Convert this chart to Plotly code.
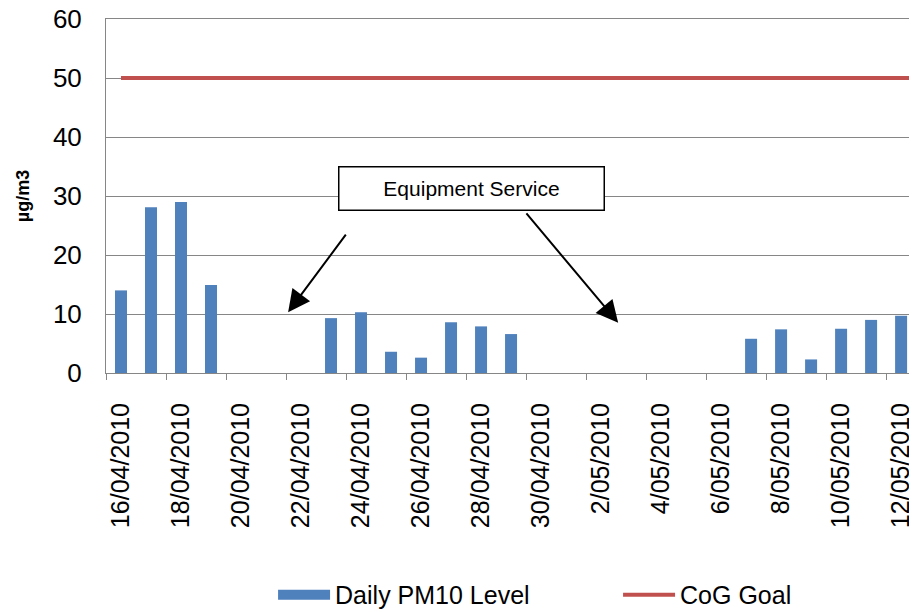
import plotly.graph_objects as go

dates = ["16/04/2010", "17/04/2010", "18/04/2010", "19/04/2010", "20/04/2010",
         "21/04/2010", "22/04/2010", "23/04/2010", "24/04/2010", "25/04/2010",
         "26/04/2010", "27/04/2010", "28/04/2010", "29/04/2010", "30/04/2010",
         "1/05/2010", "2/05/2010", "3/05/2010", "4/05/2010", "5/05/2010",
         "6/05/2010", "7/05/2010", "8/05/2010", "9/05/2010", "10/05/2010",
         "11/05/2010", "12/05/2010", "13/05/2010"]
pm10 = [14, 28.1, 29, 14.9, None, None, None, 9.3, 10.3, 3.6, 2.6, 8.6, 7.9,
        6.6, None, None, None, None, None, None, None, 5.8, 7.4, 2.3, 7.5, 9.0,
        9.7, None]
goal = [50] * len(dates)

idx = list(range(len(dates)))
label_idx = idx[0:27:2]
label_txt = [dates[i] for i in label_idx]
boundaries = [i - 0.5 for i in idx[0:28:2]]

BLUE = "#4F81BD"
RED = "#C0504D"
axis_grey = "#868686"

fig = go.Figure()
fig.add_trace(go.Bar(x=idx, y=pm10, name="Daily PM10 Level", width=0.4,
                     marker=dict(color=BLUE, line=dict(width=0)),
                     showlegend=False, legendgroup="pm"))
# legend proxy for the bar series (wide rectangle swatch)
fig.add_trace(go.Scatter(x=[None], y=[None], name="Daily PM10 Level",
                         mode="lines", line=dict(color=BLUE, width=14),
                         legendgroup="pm", legendwidth=278))
fig.add_trace(go.Scatter(x=idx, y=goal, name="CoG Goal", mode="lines",
                         line=dict(color=RED, width=4)))
# boundary tick marks on an overlaid axis
fig.add_trace(go.Scatter(x=[None], y=[None], xaxis="x2", showlegend=False,
                         hoverinfo="skip"))

fig.update_layout(
    template="none",
    width=917, height=612,
    margin=dict(l=98, r=8, t=11, b=247, autoexpand=False),
    plot_bgcolor="white", paper_bgcolor="white",
    font=dict(family="Liberation Sans, Arial, sans-serif", color="black"),
    showlegend=True,
    legend=dict(orientation="h", x=0.206, xanchor="left", y=-0.627,
                yanchor="middle", font=dict(size=25), itemwidth=52,
                traceorder="normal", bgcolor="rgba(0,0,0,0)"),
    xaxis=dict(range=[-0.5, 26.53], tickmode="array", tickvals=label_idx,
               ticktext=label_txt, tickangle=-90, ticks="",
               tickfont=dict(size=25), ticklabelstandoff=19,
               showline=True, mirror=True, linecolor=axis_grey, linewidth=1,
               showgrid=False, zeroline=False, automargin=False),
    xaxis2=dict(range=[-0.5, 26.53], overlaying="x", anchor="y",
                side="bottom", tickmode="array", tickvals=boundaries,
                showticklabels=False, ticks="outside", ticklen=6,
                tickcolor=axis_grey, tickwidth=1, showgrid=False,
                zeroline=False, showline=False, automargin=False),
    yaxis=dict(range=[0, 60], tickvals=[0, 10, 20, 30, 40, 50, 60],
               tickfont=dict(size=26), ticks="", ticklabelstandoff=18,
               ticklabeloverflow="allow",
               showline=True, linecolor=axis_grey, linewidth=1,
               showgrid=True, gridcolor=axis_grey, gridwidth=1,
               zeroline=False, automargin=False,
               title=dict(text="<b>µg/m3</b>", font=dict(size=18),
                          standoff=18)),
    annotations=[
        dict(x=11.67, y=31.2, xref="x", yref="y", text="Equipment Service",
             showarrow=False, font=dict(size=21, color="black"),
             bgcolor="white", bordercolor="black", borderwidth=1.5,
             width=264, height=42, borderpad=0),
        dict(x=5.57, y=10.3, ax=7.53, ay=23.7, xref="x", yref="y",
             axref="x", ayref="y", text="", showarrow=True, arrowhead=2,
             arrowsize=2.2, arrowwidth=2, arrowcolor="black"),
        dict(x=16.57, y=8.5, ax=13.47, ay=27.3, xref="x", yref="y",
             axref="x", ayref="y", text="", showarrow=True, arrowhead=2,
             arrowsize=2.2, arrowwidth=2, arrowcolor="black"),
    ],
)

fig.write_html("out.html")
